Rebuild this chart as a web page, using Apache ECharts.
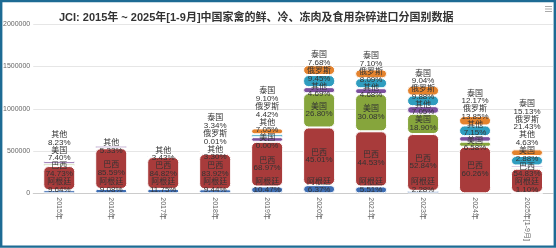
<!DOCTYPE html>
<html>
<head>
<meta charset="utf-8">
<script src="https://cdn.jsdelivr.net/npm/echarts@6/dist/echarts.min.js"></script>
<style>
  html, body { margin: 0; padding: 0; background: #fff; }
  #chart { width: 556px; height: 248px; }
</style>
</head>
<body>
<div id="chart"></div>
<script>
// 分国别进口量（吨），柱子按这个顺序从下往上堆叠
var years = ['2015年', '2016年', '2017年', '2018年', '2019年', '2020年', '2021年', '2023年', '2024年', '2025年[1-9月]'];
var argentina = [36800, 51100, 52200, 47200, 80400, 96600, 80800, 29000, null, 5700];
var brazil = [285500, 481900, 376600, 419600, 529700, 682400, 652800, 672100, 550800, 285100];
var usa = [28300, null, null, null, 20, 406300, 441000, 240400, 60100, 15000];
var others = [31400, 30000, 15200, 16500, 54100, 71100, 68600, 89700, 65400, 24100];
var russia = [null, null, null, 50, 33900, 143300, 118600, 125700, 126600, 111400];
var thailand = [null, null, null, 16700, 69900, 116400, 104100, 115000, 111200, 78700];

// 标签上的占比
var argentinaPct = [9.64, 9.08, 11.75, 9.44, 10.47, 6.37, 5.51, 2.28, null, 1.10];
var brazilPct = [74.73, 85.59, 84.82, 83.92, 68.97, 45.01, 44.53, 52.84, 60.26, 54.83];
var usaPct = [7.40, null, null, null, 0.00, 26.80, 30.08, 18.90, 6.58, 2.88];
var othersPct = [8.23, 5.33, 3.43, 3.30, 7.05, 4.69, 4.68, 7.05, 7.15, 4.63];
var russiaPct = [null, null, null, 0.01, 4.42, 9.45, 8.09, 9.88, 13.85, 21.43];
var thailandPct = [null, null, null, 3.34, 9.10, 7.68, 7.10, 9.04, 12.17, 15.13];

var yTicks = [0, 500000, 1000000, 1500000, 2000000];

var countries = [
  { name: '阿根廷', data: argentina, pct: argentinaPct, color: '#3d6db3' },
  { name: '巴西', data: brazil, pct: brazilPct, color: '#a83b3b' },
  { name: '美国', data: usa, pct: usaPct, color: '#86a53c' },
  { name: '其他', data: others, pct: othersPct, color: '#7b4f9d' },
  { name: '俄罗斯', data: russia, pct: russiaPct, color: '#2f9dbf' },
  { name: '泰国', data: thailand, pct: thailandPct, color: '#e4832e' }
];

var FONT = "'Liberation Sans', 'Noto Sans CJK SC', sans-serif";

// 同一根柱子的标签从下往上依次推开，不互相压住
var columnTops = {};
function stackLabels(p) {
  var h = p.labelRect.height;
  var mid = p.labelRect.y + h / 2;
  var s = columnTops[p.dataIndex];
  if (!s || p.seriesIndex <= s.series) {
    s = columnTops[p.dataIndex] = { series: -1, top: p.rect.y + p.rect.height };
  }
  mid = Math.min(mid, s.top - h / 2);
  s.top = mid - h / 2;
  s.series = p.seriesIndex;
  return {
    x: p.labelRect.x + p.labelRect.width / 2,
    y: mid,
    align: 'center',
    verticalAlign: 'middle'
  };
}

var series = countries.map(function (c) {
  return {
    name: c.name,
    type: 'bar',
    stack: 'total',
    barWidth: 32,
    data: c.data,
    itemStyle: {
      color: c.color,
      borderRadius: 5,
      borderColor: '#fff',
      borderWidth: 1
    },
    label: {
      show: true,
      position: 'inside',
      fontSize: 8,
      lineHeight: 7.6,
      color: '#333',
      fontFamily: FONT,
      formatter: function (p) {
        var v = c.pct[p.dataIndex];
        return v == null ? '' : c.name + '\n' + v.toFixed(2) + '%';
      }
    },
    labelLayout: stackLabels
  };
});

var chart = echarts.init(document.getElementById('chart'), null, { renderer: 'canvas' });
chart.setOption({
  backgroundColor: '#fff',
  animation: false,
  textStyle: { fontFamily: FONT },
  title: {
    text: '{b|JCI: 2015年 ~ 2025年[1-9月]}{n|中国家禽的鲜、冷、冻肉及食用杂碎进口分国别数据}',
    left: 54,
    top: 7,
    textStyle: {
      rich: {
        b: { fontSize: 11, fontWeight: 'bold', color: '#333', fontFamily: FONT },
        n: { fontSize: 11, color: '#333', fontFamily: FONT }
      }
    }
  },
  grid: {
    top: 24.3,
    bottom: 54.7,
    left: 31,
    right: 3
  },
  xAxis: {
    type: 'category',
    data: years,
    axisLine: { lineStyle: { color: '#ccc' } },
    axisTick: { show: false },
    axisLabel: {
      rotate: -90,
      fontSize: 7,
      color: '#666',
      margin: 4
    }
  },
  yAxis: {
    type: 'value',
    min: yTicks[0],
    max: yTicks[yTicks.length - 1],
    interval: yTicks[1] - yTicks[0],
    axisLine: { show: false },
    axisTick: { show: false },
    splitLine: { lineStyle: { color: '#e6e6e6' } },
    axisLabel: {
      fontSize: 7,
      color: '#666',
      margin: 3,
      formatter: function (v) { return String(v); }
    }
  },
  series: series,
  graphic: [
    // 右上角菜单图标
    { type: 'rect', right: 4, top: 6, shape: { width: 7, height: 1 }, style: { fill: '#aaa' } },
    { type: 'rect', right: 4, top: 8.5, shape: { width: 7, height: 1 }, style: { fill: '#aaa' } },
    { type: 'rect', right: 4, top: 11, shape: { width: 7, height: 1 }, style: { fill: '#aaa' } },
    // 外框
    {
      type: 'rect',
      z: 100,
      shape: { x: 1.2, y: 1, width: 553.6, height: 245.6 },
      style: { fill: 'none', stroke: '#1d6b94', lineWidth: 2.4 }
    }
  ]
});
</script>
</body>
</html>
